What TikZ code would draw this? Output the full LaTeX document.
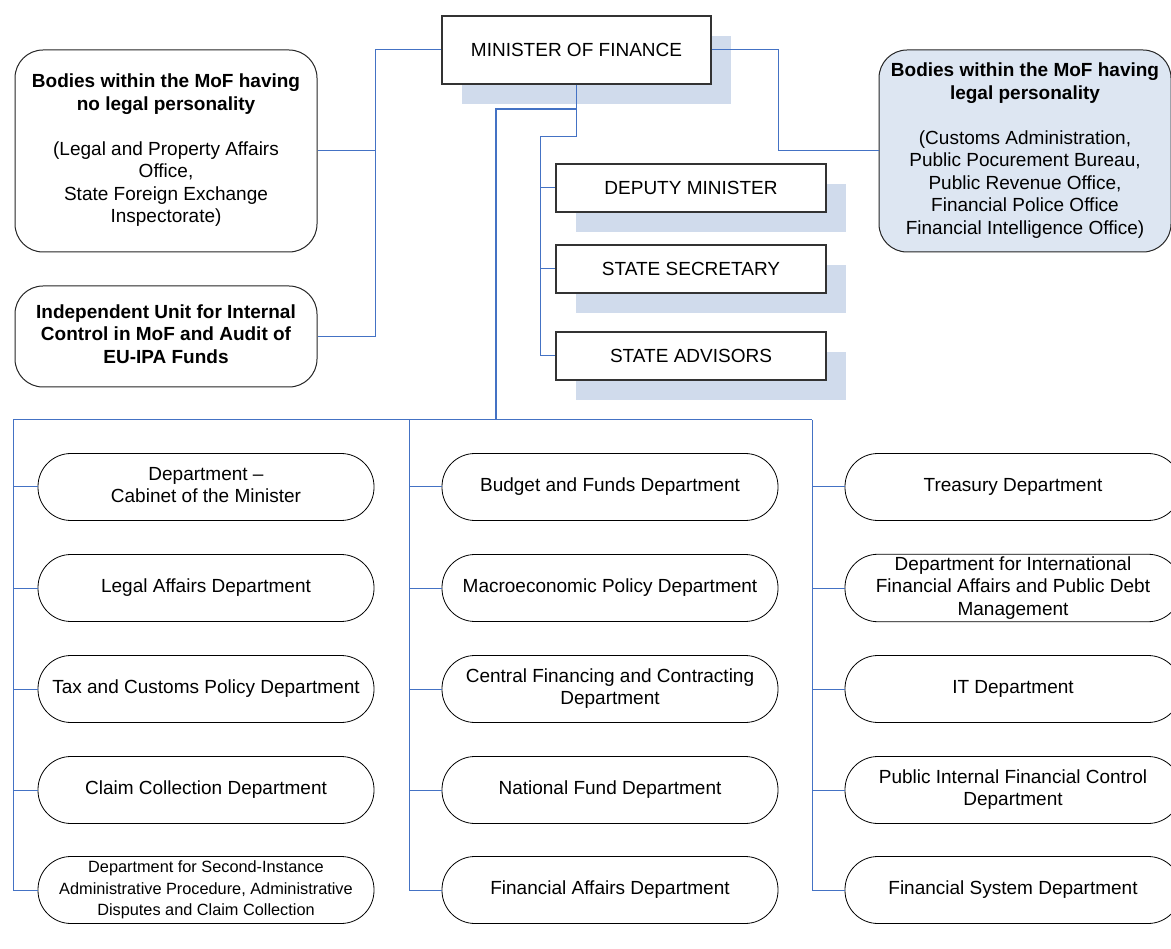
\documentclass[tikz,border=0pt]{standalone}
\usepackage{fontspec}
\setmainfont{Liberation Sans}
\usepackage{tikz}
\usetikzlibrary{shadows}
\definecolor{linkblue}{RGB}{68,114,196}
\definecolor{shadowblue}{RGB}{208,219,236}
\definecolor{bodyblue}{RGB}{221,230,242}
\tikzset{
 big/.style={font=\fontsize{19}{22.5}\selectfont},
 staffbox/.style={big, draw=black!80, line width=1.2pt, fill=white, inner sep=0pt, drop shadow={shadow xshift=20pt, shadow yshift=-20pt, fill=shadowblue, opacity=1}},
 bodybox/.style={big, draw=black!85, line width=1pt, fill=white, rounded corners=28pt, inner sep=0pt, minimum width=302pt},
 dept/.style={big, draw=black, line width=0.8pt, fill=white, rounded corners=33pt, minimum width=336pt, minimum height=67pt, inner sep=0pt},
 link/.style={linkblue, line width=1pt},
 trunk/.style={linkblue, line width=2pt}
}

\begin{document}
\begin{tikzpicture}[x=1pt,y=-1pt]
 \useasboundingbox (0,0) rectangle (1171,949);

 \node[staffbox, minimum width=269pt, minimum height=68pt] (minister) at (576.5,50) {MINISTER OF FINANCE};
 \node[staffbox, minimum width=270pt, minimum height=48pt] (deputy) at (691,188) {DEPUTY MINISTER};
 \node[staffbox, minimum width=270pt, minimum height=48pt] (secretary) at (691,269) {STATE SECRETARY};
 \node[staffbox, minimum width=270pt, minimum height=48pt] (advisors) at (691,356) {STATE ADVISORS};

 \node[bodybox, minimum height=202pt] (noleg) at (166,151) {\begin{tabular}{c} \textbf{Bodies within the MoF having} \\ \textbf{no legal personality} \\ \\ (Legal and Property Affairs \\ Office, \\ State Foreign Exchange \\ Inspectorate) \end{tabular}};
 \node[bodybox, minimum height=101pt] (indep) at (166,336.5) {\begin{tabular}{c} \textbf{Independent Unit for Internal} \\ \textbf{Control in MoF and Audit of} \\ \textbf{EU-IPA Funds} \end{tabular}};
 \node[bodybox, minimum width=292pt, minimum height=202pt, fill=bodyblue] (withleg) at (1025,151) {\begin{tabular}{c} \textbf{Bodies within the MoF having} \\ \textbf{legal personality} \\ \\ (Customs Administration, \\ Public Pocurement Bureau, \\ Public Revenue Office, \\ Financial Police Office \\ Financial Intelligence Office) \end{tabular}};

 \node[dept] (cabinet) at (206,487) {\begin{tabular}{c} Department -- \\ Cabinet of the Minister \end{tabular}};
 \node[dept] (legal) at (206,588) {Legal Affairs Department};
 \node[dept] (taxpol) at (206,689) {Tax and Customs Policy Department};
 \node[dept] (claims) at (206,790) {Claim Collection Department};
 \node[dept, font=\fontsize{16.3}{21.5}\selectfont] (secinst) at (206,890) {\begin{tabular}{c} Department for Second-Instance \\ Administrative Procedure, Administrative \\ Disputes and Claim Collection \end{tabular}};

 \node[dept] (budget) at (610,487) {Budget and Funds Department};
 \node[dept] (macro) at (610,588) {Macroeconomic Policy Department};
 \node[dept] (cfcd) at (610,689) {\begin{tabular}{c} Central Financing and Contracting \\ Department \end{tabular}};
 \node[dept] (natfund) at (610,790) {National Fund Department};
 \node[dept] (finaff) at (610,890) {Financial Affairs Department};

 \node[dept] (treasury) at (1013,487) {Treasury Department};
 \node[dept] (debt) at (1013,588) {\begin{tabular}{c} Department for International \\ Financial Affairs and Public Debt \\ Management \end{tabular}};
 \node[dept] (itdep) at (1013,689) {IT Department};
 \node[dept] (pifc) at (1013,790) {\begin{tabular}{c} Public Internal Financial Control \\ Department \end{tabular}};
 \node[dept] (finsys) at (1013,890) {Financial System Department};

 \coordinate (lbus) at (375,50);
 \coordinate (rbend) at (778,151);
 \coordinate (stem) at (576.5,137);
 \coordinate (fork) at (576.5,109);
 \coordinate (staffbus) at (540,137);
 \coordinate (drop) at (496,420);
 \coordinate (colA) at (13,420);
 \coordinate (colB) at (409,420);
 \coordinate (colC) at (812,420);

 \draw[link] (minister.west) -- (lbus) |- (noleg.east);
 \draw[link] (lbus) |- (indep.east);
 \draw[link] (minister.east) -| (rbend) -- (withleg.west);
 \draw[link] (minister.south) -- (stem) -- (staffbus) |- (advisors.west);
 \draw[link] (staffbus |- deputy.west) -- (deputy.west);
 \draw[link] (staffbus |- secretary.west) -- (secretary.west);
 \draw[trunk] (fork) -| (drop);
 \draw[link] (colA) -- (colC);

 \draw[link] (colA) |- (secinst.west);
 \draw[link] (colA |- cabinet.west) -- (cabinet.west);
 \draw[link] (colA |- legal.west) -- (legal.west);
 \draw[link] (colA |- taxpol.west) -- (taxpol.west);
 \draw[link] (colA |- claims.west) -- (claims.west);

 \draw[link] (colB) |- (finaff.west);
 \draw[link] (colB |- budget.west) -- (budget.west);
 \draw[link] (colB |- macro.west) -- (macro.west);
 \draw[link] (colB |- cfcd.west) -- (cfcd.west);
 \draw[link] (colB |- natfund.west) -- (natfund.west);

 \draw[link] (colC) |- (finsys.west);
 \draw[link] (colC |- treasury.west) -- (treasury.west);
 \draw[link] (colC |- debt.west) -- (debt.west);
 \draw[link] (colC |- itdep.west) -- (itdep.west);
 \draw[link] (colC |- pifc.west) -- (pifc.west);
\end{tikzpicture}
\end{document}
